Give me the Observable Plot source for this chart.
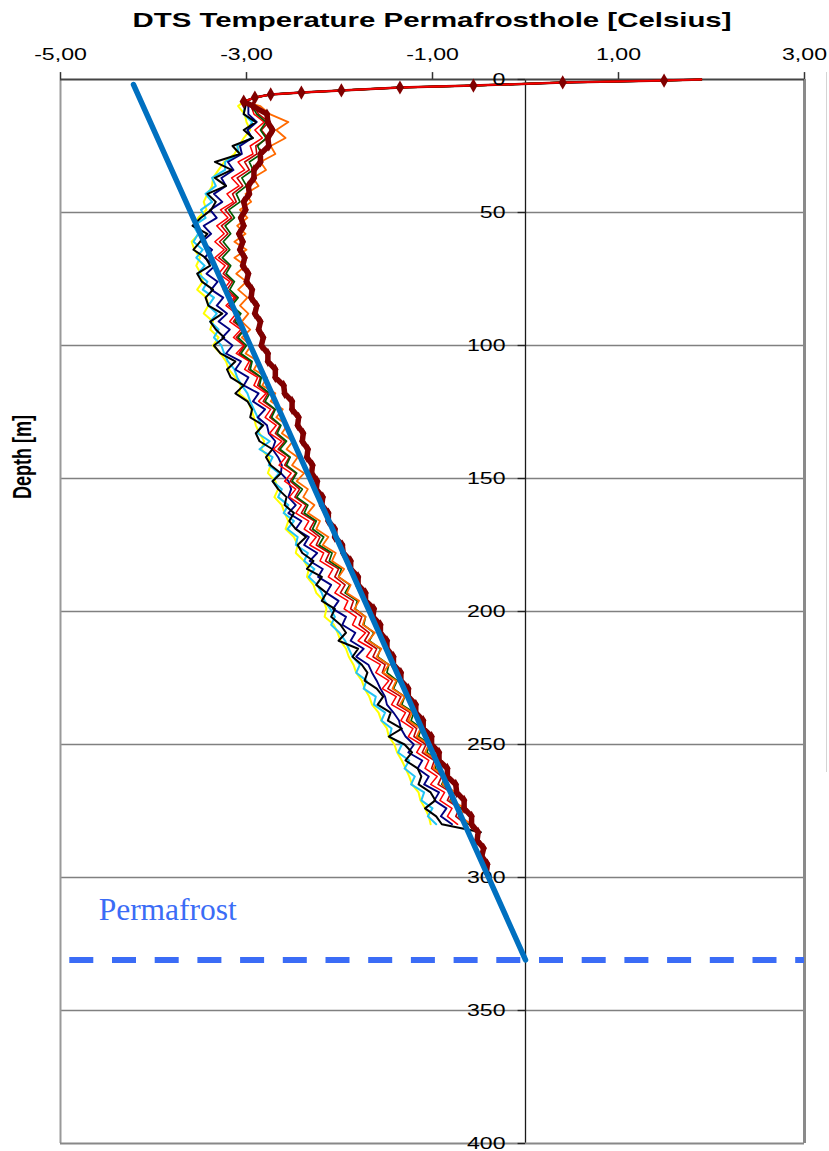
<!DOCTYPE html>
<html><head><meta charset="utf-8">
<script src="https://cdn.jsdelivr.net/npm/d3@7"></script>
<script src="https://cdn.jsdelivr.net/npm/@observablehq/plot@0.6"></script>
<style>
body{margin:0;background:#fff;width:829px;height:1151px;overflow:hidden;position:relative;font-family:"Liberation Sans",Arial,sans-serif;}
#chart{position:absolute;left:0;top:30px}
#title{position:absolute;left:432px;top:8px;font-size:21px;font-weight:bold;line-height:24px;white-space:nowrap;transform:translateX(-50%) scaleX(1.4);color:#000}
#ylab{position:absolute;left:23px;top:457px;font-size:18px;font-weight:bold;line-height:20px;white-space:nowrap;transform:translate(-50%,-50%) scaleX(1.4) rotate(-90deg);color:#000}
#legendEdge{position:absolute;left:826px;top:72px;width:1px;height:700px;background:#d4d4d4}
</style></head><body>
<div id="chart"></div>
<div id="title">DTS Temperature Permafrosthole [Celsius]</div>
<div id="ylab">Depth [m]</div>
<div id="legendEdge"></div>
<script>
// ---- tick labels ----
const xTicks = [-5, -3, -1, 1, 3];
const yTicks = [0, 50, 100, 150, 200, 250, 300, 350, 400];

// ---- shared surface section (depth m, temperature °C) ----
const surfaceDepth = [0, 0.4, 1.1, 2.3, 3.0, 4.1, 4.9, 5.6, 6.8, 8.3];
const surfaceTemp  = [1.89, 1.49, 0.40, -0.56, -1.35, -1.98, -2.41, -2.74, -2.91, -3.03];

// ---- sampling depths below the surface ----
const mainDepth = [10,13,16,19,22,25,28,31,34,37,40,43,46,49,52,55,58,61,64,67,70,73,76,79,82,85,88,91,94,97,100,103,106,109,112,115,118,121,124,127,130,133,136,139,142,145,148,151,154,157,160,163,166,169,172,175,178,181,184,187,190,193,196,199,202,205,208,211,214,217,220,223,226,229,232,235,238,241,244,247,250,253,256,259,262,265,268,271,274,277,280,283,286,289,292,295,298];

// ---- temperature profiles ----
const tYellow = [-3.09,-3.02,-3.00,-2.96,-3.03,-3.08,-3.13,-3.24,-3.30,-3.36,
-3.37,-3.42,-3.46,-3.43,-3.52,-3.56,-3.51,-3.59,-3.56,-3.50,
-3.54,-3.49,-3.47,-3.53,-3.43,-3.41,-3.46,-3.36,-3.39,-3.30,
-3.36,-3.28,-3.22,-3.19,-3.12,-3.06,-3.08,-2.98,-2.95,-2.92,
-2.90,-2.86,-2.81,-2.84,-2.76,-2.74,-2.77,-2.69,-2.66,-2.70,
-2.62,-2.59,-2.55,-2.58,-2.49,-2.45,-2.47,-2.38,-2.33,-2.35,
-2.28,-2.25,-2.17,-2.14,-2.16,-2.06,-2.02,-1.99,-1.93,-1.90,
-1.85,-1.82,-1.76,-1.73,-1.68,-1.65,-1.58,-1.55,-1.49,-1.47,
-1.41,-1.38,-1.33,-1.29,-1.25,-1.22,-1.15,-1.13,-1.08,-1.04,
-1.02];
const tCyan = [-3.02,-3.03,-2.94,-2.99,-2.95,-3.10,-3.08,-3.23,-3.23,-3.37,
-3.33,-3.44,-3.37,-3.49,-3.44,-3.57,-3.52,-3.57,-3.47,-3.54,
-3.45,-3.52,-3.42,-3.47,-3.35,-3.41,-3.32,-3.39,-3.30,-3.35,
-3.27,-3.24,-3.20,-3.13,-3.10,-3.05,-2.99,-2.96,-2.92,-2.88,
-2.84,-2.88,-2.75,-2.86,-2.72,-2.76,-2.65,-2.72,-2.62,-2.66,
-2.55,-2.60,-2.49,-2.56,-2.45,-2.47,-2.34,-2.38,-2.27,-2.33,
-2.24,-2.19,-2.16,-2.10,-2.05,-2.09,-2.00,-1.94,-1.90,-1.86,
-1.78,-1.82,-1.71,-1.74,-1.61,-1.63,-1.51,-1.55,-1.44,-1.46,
-1.33,-1.37,-1.25,-1.30,-1.19,-1.23,-1.09,-1.12,-1.00,-1.05,
-0.96];
const tBlack = [-3.01,-3.03,-2.90,-3.03,-2.93,-3.15,-3.07,-3.34,-3.16,-3.34,
-3.22,-3.42,-3.33,-3.38,-3.49,-3.58,-3.42,-3.50,-3.57,-3.44,
-3.39,-3.53,-3.48,-3.36,-3.44,-3.41,-3.26,-3.39,-3.33,-3.24,
-3.35,-3.28,-3.12,-3.21,-3.17,-3.03,-3.12,-2.99,-2.94,-2.96,
-2.82,-2.90,-2.86,-2.72,-2.79,-2.74,-2.63,-2.72,-2.66,-2.57,
-2.59,-2.49,-2.54,-2.47,-2.36,-2.45,-2.40,-2.28,-2.35,-2.19,
-2.25,-2.14,-2.19,-2.05,-2.09,-1.99,-1.93,-2.01,-1.80,-1.86,
-1.76,-1.70,-1.73,-1.60,-1.53,-1.59,-1.45,-1.48,-1.33,-1.47,
-1.30,-1.22,-1.29,-1.16,-1.12,-1.15,-1.02,-0.97,-1.08,-0.96,
-0.90,-0.48];
const tNavy = [-2.98,-2.98,-2.89,-2.99,-2.94,-3.07,-3.05,-3.20,-3.14,-3.27,
-3.22,-3.35,-3.26,-3.39,-3.32,-3.46,-3.38,-3.48,-3.37,-3.45,
-3.34,-3.43,-3.31,-3.38,-3.25,-3.32,-3.21,-3.30,-3.18,-3.26,
-3.15,-3.22,-3.06,-3.12,-2.98,-3.03,-2.87,-2.93,-2.80,-2.88,
-2.78,-2.76,-2.69,-2.72,-2.66,-2.62,-2.63,-2.55,-2.52,-2.55,
-2.47,-2.55,-2.41,-2.47,-2.33,-2.38,-2.24,-2.32,-2.18,-2.23,
-2.09,-2.14,-2.01,-2.07,-1.93,-1.97,-1.83,-1.88,-1.74,-1.82,
-1.69,-1.65,-1.60,-1.56,-1.51,-1.49,-1.42,-1.36,-1.34,-1.29,
-1.20,-1.26,-1.11,-1.16,-1.04,-1.09,-0.93,-0.98,-0.85,-0.91,
-0.79];
const tRed = [-2.95,-2.92,-2.81,-2.91,-2.83,-2.96,-2.93,-3.09,-3.02,-3.16,
-3.08,-3.21,-3.14,-3.28,-3.20,-3.32,-3.24,-3.34,-3.24,-3.34,
-3.23,-3.30,-3.18,-3.25,-3.13,-3.22,-3.11,-3.18,-3.06,-3.14,
-3.03,-3.11,-2.97,-3.02,-2.88,-2.92,-2.79,-2.87,-2.74,-2.80,
-2.68,-2.75,-2.62,-2.71,-2.58,-2.65,-2.52,-2.59,-2.47,-2.54,
-2.41,-2.47,-2.33,-2.38,-2.25,-2.32,-2.17,-2.21,-2.07,-2.12,
-1.99,-2.05,-1.91,-1.95,-1.82,-1.86,-1.72,-1.80,-1.65,-1.71,
-1.56,-1.61,-1.47,-1.54,-1.39,-1.44,-1.29,-1.34,-1.21,-1.26,
-1.12,-1.17,-1.04,-1.08,-0.95,-1.02,-0.87,-0.92,-0.79,-0.84,
-0.73];
const tFirebrick = [-2.92,-2.87,-2.76,-2.84,-2.77,-2.90,-2.89,-3.02,-2.97,-3.10,
-3.04,-3.15,-3.11,-3.23,-3.16,-3.27,-3.20,-3.29,-3.21,-3.30,
-3.19,-3.25,-3.15,-3.21,-3.11,-3.19,-3.08,-3.14,-3.03,-3.11,
-3.02,-3.08,-2.95,-2.98,-2.85,-2.88,-2.77,-2.82,-2.70,-2.75,
-2.64,-2.69,-2.59,-2.66,-2.54,-2.59,-2.47,-2.53,-2.43,-2.48,
-2.36,-2.41,-2.27,-2.32,-2.21,-2.25,-2.11,-2.15,-2.01,-2.05,
-1.94,-1.99,-1.85,-1.88,-1.76,-1.79,-1.68,-1.73,-1.60,-1.64,
-1.51,-1.54,-1.43,-1.48,-1.34,-1.38,-1.24,-1.28,-1.17,-1.20,
-1.07,-1.11,-0.98,-1.01,-0.90,-0.94,-0.80,-0.84,-0.71,-0.75,
-0.64];
const tGreen = [-2.94,-2.89,-2.79,-2.85,-2.79,-2.88,-2.84,-2.97,-2.93,-3.05,
-3.00,-3.11,-3.07,-3.19,-3.13,-3.23,-3.17,-3.25,-3.18,-3.26,
-3.17,-3.22,-3.13,-3.18,-3.09,-3.16,-3.06,-3.12,-3.02,-3.09,
-3.00,-3.06,-2.94,-2.96,-2.84,-2.86,-2.75,-2.80,-2.69,-2.73,
-2.63,-2.67,-2.57,-2.64,-2.53,-2.57,-2.46,-2.51,-2.40,-2.46,
-2.34,-2.38,-2.25,-2.29,-2.17,-2.22,-2.08,-2.11,-1.98,-2.01,
-1.89,-1.94,-1.81,-1.83,-1.72,-1.74,-1.63,-1.68,-1.56,-1.59,
-1.47,-1.49,-1.38,-1.42,-1.30,-1.33,-1.20,-1.23,-1.12,-1.15,
-1.03,-1.06,-0.95,-0.97,-0.86,-0.90,-0.78,-0.81,-0.69,-0.72,
-0.61];
const tOrange = [-2.85,-2.75,-2.55,-2.68,-2.58,-2.74,-2.69,-2.85,-2.79,-2.93,
-2.87,-3.01,-2.95,-3.07,-2.99,-3.10,-3.01,-3.13,-3.00,-3.13,
-3.01,-3.11,-3.00,-3.09,-2.99,-3.07,-2.98,-3.05,-2.96,-3.05,
-2.95,-3.01,-2.87,-2.92,-2.78,-2.83,-2.69,-2.74,-2.61,-2.68,
-2.56,-2.62,-2.50,-2.57,-2.45,-2.51,-2.38,-2.46,-2.34,-2.39,
-2.27,-2.34,-2.21,-2.25,-2.12,-2.18,-2.04,-2.08,-1.95,-2.01,
-1.88,-1.92,-1.79,-1.84,-1.72,-1.75,-1.62,-1.69,-1.55,-1.60,
-1.47,-1.53,-1.39,-1.43,-1.30,-1.35,-1.22,-1.26,-1.13,-1.17,
-1.04,-1.08,-0.95,-0.99,-0.86,-0.89,-0.75,-0.80,-0.65,-0.71,
-0.58];
const tMaroon = [-2.93,-2.78,-2.77,-2.72,-2.77,-2.76,-2.85,-2.85,-2.92,-2.92,
-2.98,-2.97,-3.03,-3.01,-3.06,-3.03,-3.08,-3.04,-3.07,-3.02,
-3.04,-2.98,-3.00,-2.94,-2.95,-2.89,-2.91,-2.85,-2.87,-2.82,
-2.84,-2.77,-2.77,-2.69,-2.69,-2.60,-2.59,-2.51,-2.51,-2.44,
-2.45,-2.39,-2.40,-2.34,-2.35,-2.29,-2.30,-2.24,-2.25,-2.18,
-2.19,-2.12,-2.12,-2.05,-2.05,-1.97,-1.96,-1.88,-1.88,-1.80,
-1.80,-1.72,-1.72,-1.63,-1.64,-1.56,-1.56,-1.49,-1.49,-1.42,
-1.42,-1.34,-1.34,-1.26,-1.26,-1.18,-1.18,-1.10,-1.10,-1.01,
-1.01,-0.93,-0.93,-0.84,-0.84,-0.75,-0.74,-0.66,-0.66,-0.58,
-0.58,-0.51,-0.52,-0.45,-0.47,-0.41,-0.42];

// ---- gradient trend line and permafrost base ----
const trendTemp  = [-4.215, 0];
const trendDepth = [1.9, 331];
const permafrostDepth = 331;
const permafrostLabel = "Permafrost";

// ---- build tables ----
function profile(temps) {
  const rows = surfaceDepth.map((d, i) => ({depth: d, temp: surfaceTemp[i]}));
  temps.forEach((t, i) => rows.push({depth: mainDepth[i], temp: t}));
  return rows;
}
const seriesList = [
  {temps: tYellow,    color: "#FFFF00", w: 2},
  {temps: tCyan,      color: "#22C4F4", w: 2},
  {temps: tNavy,      color: "#000080", w: 1.9},
  {temps: tBlack,     color: "#000000", w: 2},
  {temps: tRed,       color: "#FF0000", w: 1.5},
  {temps: tFirebrick, color: "#C00000", w: 1.6},
  {temps: tGreen,     color: "#005A00", w: 1.7},
  {temps: tOrange,    color: "#FF6A00", w: 1.8}
];
const maroonRows = profile(tMaroon);
const maroonTop = maroonRows.filter(r => r.depth <= 8.3);
const maroonDeep = maroonRows.filter(r => r.depth >= 8.3);
const markerTop = maroonRows.filter(r => r.depth > 0 && r.depth < 9);
const trendRows = trendTemp.map((t, i) => ({temp: t, depth: trendDepth[i]}));
const fmtX = d => d.toFixed(2).replace(".", ",");

const plot = Plot.plot({
  width: 829, height: 1121,
  marginTop: 49, marginBottom: 8, marginLeft: 60, marginRight: 25,
  x: {domain: [-5, 3], axis: null},
  y: {domain: [0, 400], reverse: true, axis: null},
  style: {fontFamily: '"Liberation Sans", Arial, sans-serif', background: "white", overflow: "visible"},
  marks: [
    Plot.ruleY(yTicks.filter(d => d > 0 && d < 400), {y: d => d, stroke: "#808080", strokeWidth: 1.5}),
    Plot.ruleX([0], {stroke: "#1a1a1a", strokeWidth: 1.3}),
    Plot.ruleX([-5], {stroke: "#999", strokeWidth: 2}),
    Plot.ruleY([400], {stroke: "#888", strokeWidth: 2}),
    Plot.ruleX([3], {stroke: "#8a8a8a", strokeWidth: 3}),
    Plot.ruleY([0], {stroke: "#444", strokeWidth: 2}),
    Plot.ruleX(xTicks, {x: d => d, y1: -2.6, y2: 0, stroke: "#333", strokeWidth: 1.5}),
    Plot.text(xTicks, {x: d => d, y: 0, dy: -25, text: fmtX, fontSize: 16.5, fill: "#000"}),
    Plot.ruleY(yTicks, {y: d => d, x1: -0.08, x2: 0, stroke: "#222", strokeWidth: 1.3}),
    ...seriesList.map(s => Plot.line(profile(s.temps), {x: "temp", y: "depth", stroke: s.color, strokeWidth: s.w})),
    Plot.line(maroonTop, {x: "temp", y: "depth", stroke: "#8B0000", strokeWidth: 2.5}),
    Plot.line(maroonDeep, {x: "temp", y: "depth", stroke: "#800000", strokeWidth: 5.5}),
    Plot.dot(maroonDeep, {x: "temp", y: "depth", symbol: "diamond", r: 3.4, fill: "#800000"}),
    Plot.line(profile(tRed).filter(r => r.depth < 9), {x: "temp", y: "depth", stroke: "#FF0000", strokeWidth: 1.5}),
    Plot.dot(markerTop, {x: "temp", y: "depth", symbol: "diamond", r: 4.3, fill: "#800000"}),
    Plot.text(yTicks, {x: 0, y: d => d, text: d => String(d), textAnchor: "end", dx: -20, fontSize: 16.5, fill: "#000"}),
    Plot.line(trendRows, {x: "temp", y: "depth", stroke: "#0070C0", strokeWidth: 5.5}),
    Plot.ruleY([permafrostDepth], {y: d => d, x1: -4.9, x2: 3, stroke: "#3B6CF6", strokeWidth: 6, strokeDasharray: "24,18.7"}),
    Plot.text([permafrostLabel], {x: -4.59, y: 312, text: d => d, textAnchor: "start", fontSize: 31.5, fontFamily: '"Liberation Serif", "Times New Roman", serif', fill: "#3B6CF6"})
  ]
});
document.getElementById("chart").appendChild(plot);
// widen the chart's own labels like the original (horizontally stretched rendering)
plot.querySelectorAll("text").forEach(t => {
  if (t.textContent === permafrostLabel) return;
  const L = t.getComputedTextLength();
  if (L > 0) {
    t.setAttribute("textLength", (L * 1.4).toFixed(1));
    t.setAttribute("lengthAdjust", "spacingAndGlyphs");
  }
});
</script>
</body></html>
